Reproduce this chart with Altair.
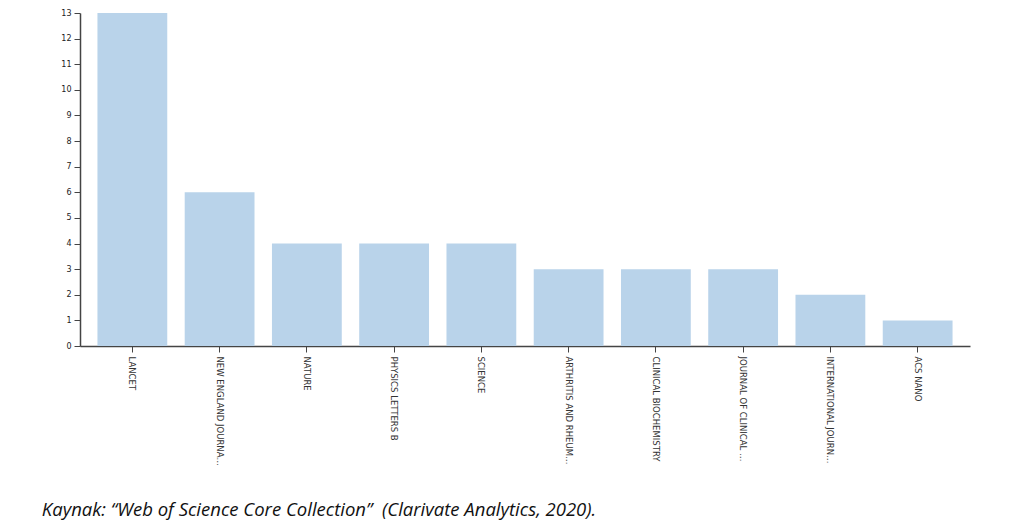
import altair as alt
import pandas as pd

journals = ["LANCET", "NEW ENGLAND JOURNA\u2026", "NATURE", "PHYSICS LETTERS B",
            "SCIENCE", "ARTHRITIS AND RHEUM\u2026", "CLINICAL BIOCHEMISTRY",
            "JOURNAL OF CLINICAL \u2026", "INTERNATIONAL JOURN\u2026", "ACS NANO"]
counts = [13, 6, 4, 4, 4, 3, 3, 3, 2, 1]
y_ticks = list(range(0, 14))
caption = "Kaynak: \u201cWeb of Science Core Collection\u201d\u00a0\u00a0(Clarivate Analytics, 2020)."

df = pd.DataFrame({"journal": journals, "count": counts})

chart = alt.Chart(df).mark_bar(color="#b9d3ea").encode(
    x=alt.X("journal:N", sort=journals, title=None,
            scale=alt.Scale(paddingInner=0.2, paddingOuter=0.2),
            axis=alt.Axis(labelAngle=90, labelAlign="left", labelBaseline="middle",
                          labelLimit=0, labelFontSize=8.5, labelFont="DejaVu Sans",
                          labelColor="#333", domainColor="#444", tickColor="#444",
                          domainWidth=1.5, tickSize=6, labelPadding=4)),
    y=alt.Y("count:Q", title=None,
            scale=alt.Scale(domain=[0, 13], nice=False),
            axis=alt.Axis(values=y_ticks, grid=False, labelFontSize=8,
                          labelFont="DejaVu Sans", labelColor="#222",
                          domainColor="#444", tickColor="#444", domainWidth=1.5,
                          tickSize=6, labelPadding=3)),
).properties(
    width=890, height=333,
    autosize=alt.AutoSizeParams(type="none"),
    padding={"left": 72, "top": 5, "right": 32, "bottom": 174},
    title=alt.TitleParams(caption, orient="bottom", anchor="start", dx=-19, offset=36,
                          font="Open Sans", fontStyle="italic", fontWeight="normal",
                          fontSize=18.5, color="#111"),
).configure_view(stroke=None)

chart.save("out.html", embed_options={"renderer": "svg", "actions": False})
